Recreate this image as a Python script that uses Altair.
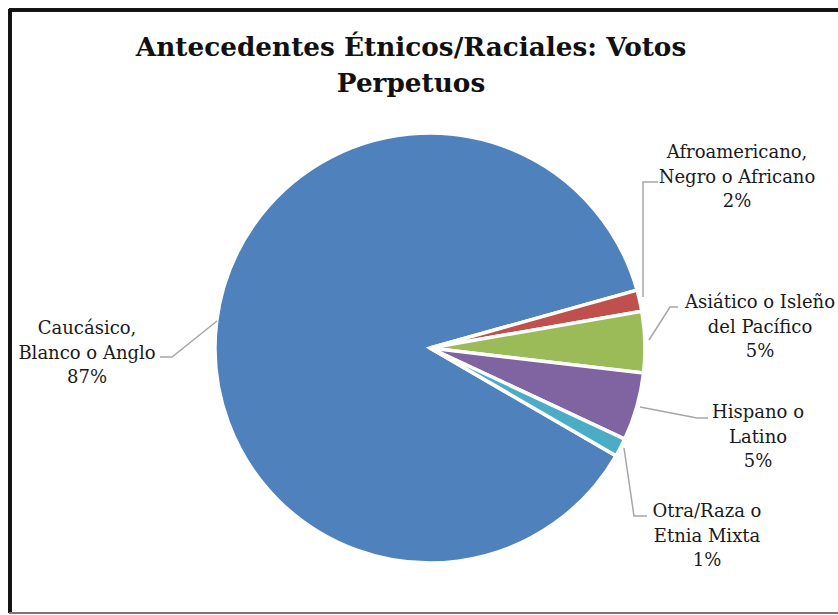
import math
import altair as alt
import pandas as pd

# ---- data ----
categories = [
    "Caucásico, Blanco o Anglo",
    "Afroamericano, Negro o Africano",
    "Asiático o Isleño del Pacífico",
    "Hispano o Latino",
    "Otra/Raza o Etnia Mixta",
]
label_lines = [
    ["Caucásico,", "Blanco o Anglo"],
    ["Afroamericano,", "Negro o Africano"],
    ["Asiático o Isleño", "del Pacífico"],
    ["Hispano o", "Latino"],
    ["Otra/Raza o", "Etnia Mixta"],
]
percent = [87.3, 1.6, 4.6, 5.1, 1.4]
colors = ["#4F81BD", "#C0504D", "#9BBB59", "#8064A2", "#4BACC6"]
title_lines = ["Antecedentes Étnicos/Raciales: Votos", "Perpetuos"]

# ---- layout (pixels) ----
W, H = 838, 615
CX, CY, R = 430, 348, 215
start_angle = math.radians(120.1)
label_pos = [(87, 334), (737, 158), (760, 308), (758, 418), (707, 517)]
leaders = [
    [(160, 357), (172, 357), (217, 321)],
    [(658, 182), (643, 182), (643, 297)],
    [(678, 307), (670, 307), (649, 340)],
    [(708, 418), (697, 418), (640, 407)],
    [(647, 516), (634, 516), (624, 448)],
]

pie_df = pd.DataFrame({"cat": categories, "value": percent, "idx": range(len(categories))})

lab_df = pd.DataFrame({
    "cat": categories,
    "text": ["\n".join(l + [f"{round(v)}%"]) for l, v in zip(label_lines, percent)],
    "lx": [p[0] for p in label_pos],
    "ly": [p[1] for p in label_pos],
})

rows = []
for c, pts in zip(categories, leaders):
    for i, (px, py) in enumerate(pts):
        rows.append({"cat": c, "pt": i, "lx": px, "ly": py})
lead_df = pd.DataFrame(rows)

title_df = pd.DataFrame({"t": title_lines, "ty": [56, 92]})

xs = alt.Scale(domain=[0, W], range=[0, W], nice=False, zero=False)
ys = alt.Scale(domain=[0, H], range=[0, H], nice=False, zero=False)

arcs = alt.Chart(pie_df).mark_arc(
    outerRadius=R, stroke="white", strokeWidth=3.5
).encode(
    theta=alt.Theta("value:Q", stack=True,
                    scale=alt.Scale(range=[start_angle, start_angle + 2 * math.pi])),
    color=alt.Color("cat:N", scale=alt.Scale(domain=categories, range=colors), legend=None),
    order=alt.Order("idx:Q"),
    x=alt.value(CX),
    y=alt.value(CY),
)

lines = alt.Chart(lead_df).mark_line(color="#A6A6A6", strokeWidth=1.5).encode(
    x=alt.X("lx:Q", scale=xs, axis=None),
    y=alt.Y("ly:Q", scale=ys, axis=None),
    detail="cat:N",
    order="pt:Q",
)

labels = alt.Chart(lab_df).mark_text(
    font="DejaVu Serif", fontSize=18, lineBreak="\n", lineHeight=24.5,
    align="center", baseline="alphabetic", color="#1a1a1a",
).encode(
    x=alt.X("lx:Q", scale=xs, axis=None),
    y=alt.Y("ly:Q", scale=ys, axis=None),
    text="text:N",
)

title = alt.Chart(title_df).mark_text(
    font="DejaVu Serif", fontSize=26.3, fontWeight="bold",
    align="center", baseline="alphabetic", color="#111111",
).encode(
    x=alt.value(411),
    y=alt.Y("ty:Q", scale=ys, axis=None),
    text="t:N",
)

border_left = alt.Chart(pie_df).mark_rule(color="#111111", strokeWidth=3).encode(
    x=alt.value(10), y=alt.value(9), y2=alt.value(613))
border_top = alt.Chart(pie_df).mark_rule(color="#111111", strokeWidth=3).encode(
    x=alt.value(9), x2=alt.value(W + 5), y=alt.value(10))
border_bottom = alt.Chart(pie_df).mark_rule(color="#777777", strokeWidth=2).encode(
    x=alt.value(9), x2=alt.value(W + 5), y=alt.value(613))

chart = alt.layer(
    arcs, lines, labels, title, border_left, border_top, border_bottom
).properties(
    width=W, height=H, padding=0, autosize="none", background="white"
).configure_view(strokeWidth=0)

chart.save("out.html", embed_options={"renderer": "svg", "actions": False})
